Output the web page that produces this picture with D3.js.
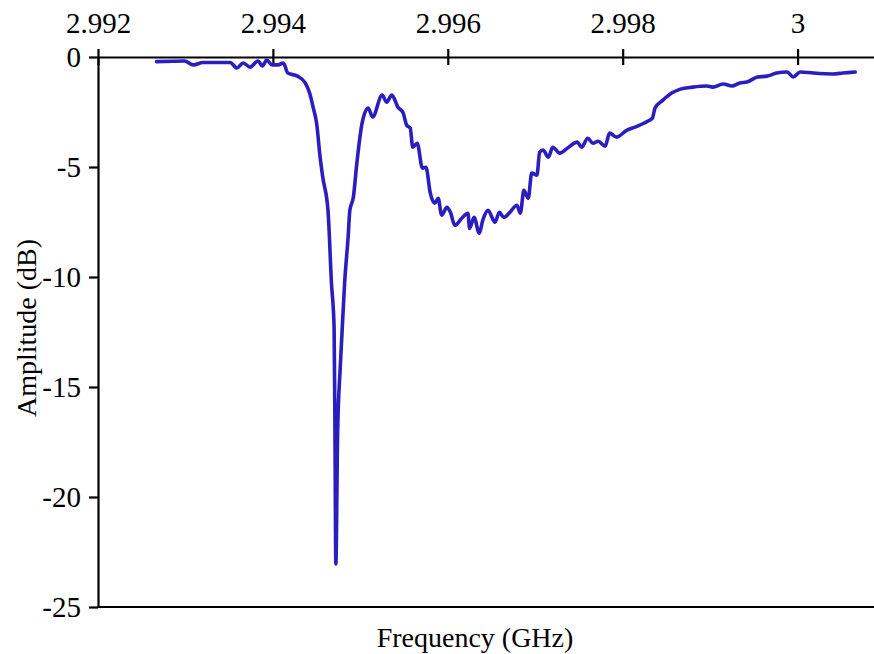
<!DOCTYPE html>
<html>
<head>
<meta charset="utf-8">
<script src="https://cdn.jsdelivr.net/npm/d3@7"></script>
<style>
  body { margin: 0; background: #fff; }
  svg text { font-family: "Liberation Serif", "Times New Roman", serif; fill: #000; }
</style>
</head>
<body>
<svg id="chart"></svg>
<script>
// frequency (GHz) and amplitude (dB)
var freq = [2.99267, 2.99299, 2.99309, 2.99320, 2.99351, 2.99359, 2.99366, 2.99374, 2.99383, 2.99388,
  2.99393, 2.99399, 2.99406, 2.99412, 2.99417, 2.99428, 2.99437, 2.99442, 2.99446, 2.99450,
  2.99454, 2.99457, 2.99463, 2.99467, 2.99470, 2.99471, 2.99472, 2.99474, 2.99477, 2.99479,
  2.99482, 2.99486, 2.99488, 2.99492, 2.99496, 2.99502, 2.99509, 2.99514, 2.99525, 2.99530,
  2.99536, 2.99543, 2.99549, 2.99553, 2.99557, 2.99560, 2.99565, 2.99571, 2.99575, 2.99580,
  2.99585, 2.99589, 2.99593, 2.99599, 2.99603, 2.99608, 2.99616, 2.99623, 2.99625, 2.99630,
  2.99636, 2.99640, 2.99646, 2.99654, 2.99659, 2.99664, 2.99671, 2.99679, 2.99683, 2.99687,
  2.99692, 2.99696, 2.99702, 2.99705, 2.99709, 2.99715, 2.99720, 2.99728, 2.99737, 2.99748,
  2.99753, 2.99760, 2.99766, 2.99772, 2.99780, 2.99785, 2.99793, 2.99805, 2.99814, 2.99829,
  2.99834, 2.99837, 2.99846, 2.99856, 2.99866, 2.99880, 2.99896, 2.99903, 2.99915, 2.99925,
  2.99934, 2.99942, 2.99954, 2.99965, 2.99976, 2.99988, 2.99995, 3.00003, 3.00018, 3.00040,
  3.00052, 3.00066];
var amp = [-0.21, -0.18, -0.36, -0.25, -0.25, -0.50, -0.27, -0.46, -0.18, -0.41,
  -0.14, -0.36, -0.36, -0.27, -0.73, -0.87, -1.18, -1.64, -2.28, -3.01,
  -4.55, -5.46, -6.97, -10.29, -12.30, -17.12, -23.04, -17.12, -14.12, -12.57,
  -10.29, -8.20, -6.97, -6.38, -4.83, -3.01, -2.32, -2.73, -1.73, -2.05,
  -1.73, -2.28, -2.55, -3.10, -3.23, -4.10, -3.92, -5.05, -5.01, -6.19,
  -6.65, -6.42, -7.19, -6.83, -7.06, -7.65, -7.33, -7.10, -7.79, -7.29,
  -8.01, -7.42, -6.97, -7.51, -7.06, -7.29, -7.06, -6.74, -7.10, -6.06,
  -6.42, -5.28, -5.37, -4.33, -4.23, -4.55, -4.10, -4.37, -4.14, -3.87,
  -4.10, -3.69, -3.92, -3.83, -4.05, -3.46, -3.64, -3.32, -3.19, -2.91,
  -2.78, -2.32, -1.96, -1.64, -1.46, -1.37, -1.32, -1.37, -1.23, -1.32,
  -1.18, -1.14, -0.91, -0.87, -0.73, -0.68, -0.91, -0.68, -0.73, -0.77,
  -0.73, -0.68];

var xTicks = [2.992, 2.994, 2.996, 2.998, 3.000];
var yTicks = [0, -5, -10, -15, -20, -25];

var W = 874, H = 654;
var mLeft = 98, mRight = 874, mTop = 57, mBottom = 607;

var svg = d3.select("#chart").attr("width", W).attr("height", H);

var x = d3.scaleLinear().domain([2.992, 3.000874]).range([mLeft, mRight]);
var y = d3.scaleLinear().domain([-25, 0]).range([mBottom, mTop]);

var data = freq.map(function(f, i){ return {f: f, a: amp[i]}; });

// bottom frame line
svg.append("line")
    .attr("x1", mLeft).attr("x2", mRight)
    .attr("y1", mBottom).attr("y2", mBottom)
    .attr("stroke", "#000").attr("stroke-width", 2.2);

// left axis
var gy = svg.append("g")
    .attr("transform", `translate(${mLeft},0)`)
    .call(d3.axisLeft(y).tickValues(yTicks).tickSize(9).tickSizeOuter(0)
        .tickFormat(function(d){ return String(d); }));

// top axis, ticks crossing the line
var gx = svg.append("g")
    .attr("transform", `translate(0,${mTop})`)
    .call(d3.axisTop(x).tickValues(xTicks).tickSize(8).tickSizeOuter(0)
        .tickFormat(function(d){ return String(+d.toFixed(3)); }));
gx.selectAll(".tick line").attr("y1", 8);
gx.selectAll(".tick text").attr("y", -24).attr("dy", "0");

[gx, gy].forEach(function(g){
  g.select(".domain").attr("stroke", "#000").attr("stroke-width", 2.2);
  g.selectAll(".tick line").attr("stroke", "#000").attr("stroke-width", 2.2);
  g.selectAll(".tick text").attr("font-size", 29)
    .style("font-family", '"Liberation Serif", serif').attr("fill", "#000");
});
gy.selectAll(".tick text").attr("x", -17);

// trace
var line = d3.line()
    .x(function(d){ return x(d.f); })
    .y(function(d){ return y(d.a); })
    .curve(d3.curveMonotoneX);

svg.append("path")
    .datum(data)
    .attr("d", line)
    .attr("fill", "none")
    .attr("stroke", "#2a1fbe")
    .attr("stroke-width", 3.6)
    .attr("stroke-linejoin", "round")
    .attr("stroke-linecap", "round");

// axis titles
svg.append("text")
    .attr("x", 475).attr("y", 647)
    .attr("text-anchor", "middle")
    .attr("font-size", 28)
    .text("Frequency (GHz)");

svg.append("text")
    .attr("transform", "translate(36,328) rotate(-90)")
    .attr("text-anchor", "middle")
    .attr("font-size", 28)
    .text("Amplitude (dB)");
</script>
</body>
</html>
